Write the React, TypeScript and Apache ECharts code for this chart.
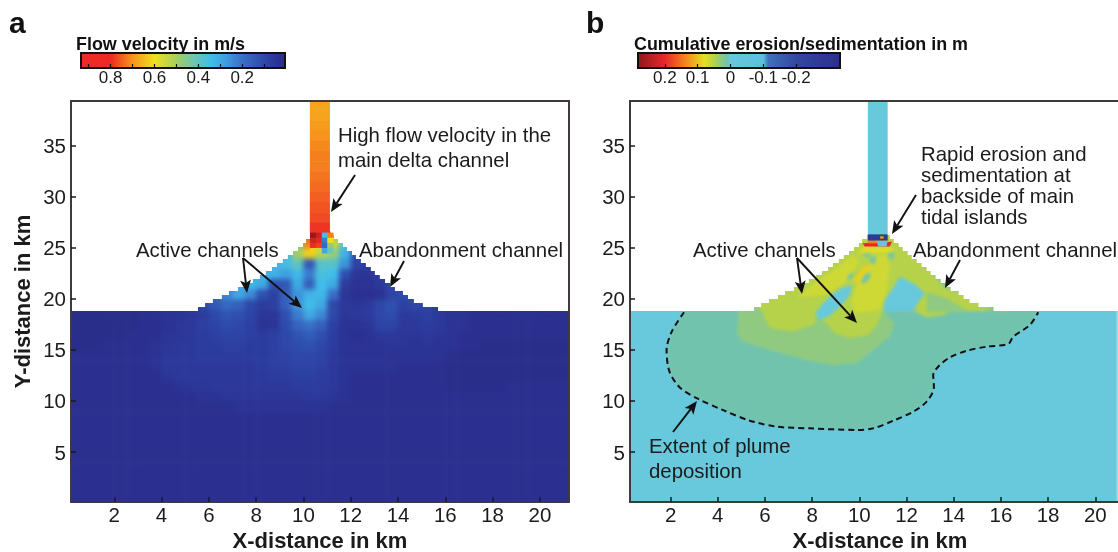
import React, { useEffect, useRef } from "react";
import * as echarts from "echarts";

const FONT = "'Liberation Sans', Arial, sans-serif";
const INK = "#1c1a1a";

// ---------- axes ----------
const xTicks = [2, 4, 6, 8, 10, 12, 14, 16, 18, 20];
const yTicks = [5, 10, 15, 20, 25, 30, 35];
const velocityLabels = [0.8, 0.6, 0.4, 0.2];
const velocityTicks = [0.9, 0.8, 0.7, 0.6, 0.5, 0.4, 0.3, 0.2, 0.1];
const erosionLabels = [0.2, 0.1, 0, -0.1, -0.2];

// ---------- panel a : flow velocity in cm/s, cell centres ----------
const cellX = [0.25, 0.75, 1.25, 1.75, 2.25, 2.75, 3.25, 3.75, 4.25, 4.75, 5.25, 5.75, 6.25, 6.75, 7.25, 7.75, 8.25, 8.75, 9.25, 9.75, 10.25, 10.75, 11.25, 11.75, 12.25, 12.75, 13.25, 13.75, 14.25, 14.75, 15.25, 15.75, 16.25, 16.75, 17.25, 17.75, 18.25, 18.75, 19.25, 19.75, 20.25, 20.75, 21.25];
const deepRow = [3, 3, 3, 3, 3, 3, 3, 3, 3, 3, 3, 3, 3, 3, 3, 3, 3, 3, 3, 3, 3, 3, 3, 3, 3, 3, 3, 3, 3, 3, 3, 3, 3, 3, 3, 3, 3, 3, 3, 3, 3, 3, 3];
const row9 = [3, 3, 3, 3, 3, 3, 3, 3, 3, 3, 3, 3, 3, 3, 4, 4, 4, 4, 4, 4, 4, 4, 3, 3, 3, 3, 3, 3, 3, 3, 3, 3, 3, 3, 3, 3, 3, 3, 3, 3, 3, 3, 3];
const row10 = [3, 3, 3, 3, 3, 3, 3, 3, 3, 3, 3, 4, 4, 5, 5, 5, 5, 5, 5, 5, 6, 6, 5, 4, 3, 3, 3, 3, 3, 3, 3, 3, 3, 3, 3, 3, 3, 3, 3, 3, 3, 3, 3];
const row11 = [3, 3, 3, 3, 3, 3, 3, 3, 3, 4, 5, 5, 6, 6, 6, 6, 6, 6, 6, 7, 7, 7, 6, 4, 3, 3, 3, 3, 3, 3, 3, 3, 2, 2, 2, 2, 2, 3, 3, 3, 3, 3, 3];
const row12 = [3, 3, 3, 3, 3, 3, 3, 3, 5, 6, 6, 6, 6, 6, 6, 6, 6, 7, 7, 8, 8, 7, 6, 4, 3, 3, 3, 3, 3, 3, 3, 3, 2, 2, 2, 2, 2, 2, 2, 2, 2, 2, 2];
const row13 = [3, 3, 3, 3, 3, 3, 3, 4, 6, 6, 6, 6, 6, 6, 6, 6, 7, 8, 8, 9, 9, 8, 6, 4, 4, 4, 4, 4, 3, 3, 3, 3, 2, 2, 2, 2, 2, 2, 2, 2, 2, 2, 2];
const row14 = [3, 3, 3, 3, 3, 3, 3, 4, 6, 6, 6, 7, 7, 7, 7, 7, 7, 8, 9, 10, 10, 9, 6, 4, 4, 4, 4, 4, 4, 4, 4, 4, 3, 2, 2, 2, 2, 2, 2, 2, 2, 2, 2];
const row15 = [2, 2, 2, 3, 3, 3, 3, 4, 5, 6, 6, 7, 7, 8, 8, 7, 7, 8, 10, 11, 12, 10, 7, 4, 4, 4, 4, 5, 5, 4, 5, 4, 4, 3, 3, 2, 2, 2, 2, 2, 2, 2, 2];
const row16 = [2, 2, 2, 2, 2, 3, 3, 3, 5, 5, 6, 7, 8, 9, 9, 8, 7, 8, 10, 13, 15, 12, 7, 4, 3, 4, 6, 6, 5, 5, 6, 5, 4, 3, 3, 3, 3, 3, 3, 3, 3, 3, 3];
const row17 = [2, 2, 2, 2, 2, 2, 3, 3, 4, 5, 6, 8, 9, 11, 10, 8, 4, 5, 11, 17, 20, 16, 8, 4, 4, 5, 9, 9, 6, 6, 7, 6, 4, 4, 3, 3, 3, 3, 3, 3, 3, 3, 3];
const row18 = [2, 2, 2, 2, 2, 2, 3, 3, 4, 4, 5, 7, 10, 13, 12, 9, 5, 5, 12, 22, 30, 24, 10, 5, 6, 7, 10, 11, 6, 7, 8, 6, 4, 4, 3, 3, 3, 3, 3, 3, 3, 3, 3];
const row19 = [3, 3, 3, 3, 3, 3, 3, 4, 5, 6, 7, 10, 14, 18, 16, 10, 7, 8, 16, 26, 34, 30, 10, 6, 5, 6, 10, 12, 8, 10, 9, 6, 4, 3, 3, 3, 3, 3, 3, 3, 3, 3, 3];
const row20 = [3, 3, 3, 3, 3, 3, 3, 3, 3, 3, 8, 12, 18, 24, 30, 24, 12, 8, 16, 26, 32, 33, 20, 5, 3, 3, 4, 9, 11, 10, 8, 5, 4, 3, 3, 3, 3, 3, 3, 3, 3, 3, 3];
const row21 = [3, 3, 3, 3, 3, 3, 3, 3, 3, 3, 6, 8, 14, 22, 30, 33, 30, 12, 14, 30, 16, 34, 30, 7, 4, 4, 6, 10, 11, 8, 7, 5, 3, 3, 3, 3, 3, 3, 3, 3, 3, 3, 3];
const row22 = [3, 3, 3, 3, 3, 3, 3, 3, 3, 3, 3, 3, 10, 18, 24, 28, 32, 32, 28, 33, 22, 36, 34, 12, 5, 5, 7, 9, 9, 8, 6, 5, 3, 3, 3, 3, 3, 3, 3, 3, 3, 3, 3];
const row23 = [3, 3, 3, 3, 3, 3, 3, 3, 3, 3, 3, 3, 3, 14, 22, 26, 30, 32, 35, 40, 14, 38, 38, 26, 9, 7, 8, 8, 8, 6, 5, 5, 3, 3, 3, 3, 3, 3, 3, 3, 3, 3, 3];
const row24 = [3, 3, 3, 3, 3, 3, 3, 3, 3, 3, 3, 3, 3, 3, 18, 25, 28, 30, 33, 50, 62, 52, 48, 32, 10, 8, 8, 8, 8, 5, 5, 5, 3, 3, 3, 3, 3, 3, 3, 3, 3, 3, 3];
const row25 = [3, 3, 3, 3, 3, 3, 3, 3, 3, 3, 3, 3, 3, 3, 3, 20, 25, 28, 33, 45, 72, 88, 55, 38, 12, 8, 8, 8, 8, 5, 5, 5, 3, 3, 3, 3, 3, 3, 3, 3, 3, 3, 3];
const row26 = [3, 3, 3, 3, 3, 3, 3, 3, 3, 3, 3, 3, 3, 3, 3, 3, 20, 25, 30, 50, 80, 86, 70, 35, 10, 8, 8, 8, 8, 5, 5, 5, 3, 3, 3, 3, 3, 3, 3, 3, 3, 3, 3];
const velocityRows = [deepRow, deepRow, deepRow, deepRow, deepRow, deepRow, deepRow, deepRow, deepRow, row9, row10, row11, row12, row13, row14, row15, row16, row17, row18, row19, row20, row21, row22, row23, row24, row25, row26];

// main channel above the delta apex, top to bottom (centres at y)
const channelY = [39, 38, 37, 36, 35, 34, 33, 32, 31, 30, 29, 28, 27];
const channelVelocity = [68, 68, 69, 70, 71, 72, 72, 73, 74, 75, 76, 77, 79];
// fine cells at the apex
const apexX = [10.4, 10.65, 10.9, 11.13];
const apexY = [26.25, 25.75, 25.25, 24.75];
const apexVelocity = [
  [95, 86, 35, 72],
  [85, 82, 22, 60],
  [80, 78, 18, 48],
  [62, 55, 30, 42],
];

// ---------- delta outline shared by both panels (stair steps of the mesh) ----------
const landY = [18.82, 19.22, 19.61, 20.0, 20.39, 20.78, 21.18, 21.57, 21.96, 22.35, 22.75, 23.14, 23.53, 23.92, 24.31, 24.71, 25.1, 25.49, 25.88, 26.27, 26.6];
const landLeft = [5.54, 5.84, 6.17, 6.55, 6.85, 7.23, 7.61, 7.86, 8.16, 8.41, 8.67, 8.88, 9.13, 9.34, 9.56, 9.77, 9.98, 10.11, 10.32, 10.44];
const landRight = [15.69, 15.05, 14.67, 14.42, 14.21, 13.87, 13.66, 13.45, 13.23, 13.02, 12.85, 12.64, 12.43, 12.22, 12.05, 11.84, 11.67, 11.46, 11.29, 11.16];

// ---------- panel b : erosion/sedimentation contours, [km, km], level in m ----------
const plumeLine = [[2.57, 18.7], [2.05, 16.8], [1.83, 15.0], [1.95, 12.9], [2.4, 11.3], [3.17, 10.2], [4.23, 9.1], [5.36, 8.07], [6.5, 7.48], [7.9, 7.32], [9.89, 7.16], [10.59, 7.32], [11.44, 8.07], [12.28, 8.95], [12.85, 9.93], [13.16, 11.34], [13.13, 12.55], [13.34, 13.36], [13.84, 14.28], [14.55, 14.93], [15.39, 15.32], [16.31, 15.59], [16.52, 16.3], [17.23, 17.45], [17.58, 18.7]];
const plumeShore = [[2.57, 18.6], [17.58, 18.6], [17.58, 19.5], [2.57, 19.5]];
const openSea = [[-2, -2], [24, -2], [24, 42], [-2, 42]];
const bandNear = [[4.87, 20], [4.87, 17.94], [4.8, 16.63], [5.08, 15.8], [6.21, 15], [7.76, 14], [8.89, 13.5], [9.88, 13.7], [10.59, 15], [11.29, 16.3], [11.5, 17.6], [11.0, 18.76], [11, 20]];
const deltaApron = [[5, 18.8], [16.5, 18.8], [13.5, 23], [11.5, 27], [10, 27], [5, 20]];
const deltaTop = [[5.93, 18.8], [6.0, 17.94], [6.28, 17.1], [7.2, 16.8], [8.12, 17.55], [8.19, 18.4], [8.61, 17.6], [8.96, 16.63], [9.6, 16.14], [10.38, 16.47], [10.73, 17.45], [10.98, 18.76], [12.28, 18.9], [12.85, 18.2], [13.55, 18.4], [14, 18.9], [15.2, 18.8], [15.6, 19.2], [14.3, 20.6], [13.6, 21], [11.5, 27], [10, 27], [5, 20]];
const rightApron = [[12.85, 20.7], [13.7, 20.06], [14.68, 18.7], [12.85, 18.7]];
const leftYellow = [[7.34, 20.2], [8.61, 20.4], [9.46, 21.7], [10.02, 23.65], [9.74, 24.3], [9.03, 23], [8.19, 21.7]];
const midYellow = [[9.81, 18.68], [10.87, 18.9], [11.15, 20.7], [11.29, 23.0], [11.15, 24.3], [10.59, 24.15], [10.09, 22.35], [9.81, 20.9], [9.67, 19.73]];
const streakYellow = [[9.81, 22.0], [10.16, 23.2], [10.52, 23.3], [10.24, 22.35], [9.81, 21.4]];
const apexYellow = [[10.23, 25.1], [11.29, 25.1], [11.58, 24.8], [11.15, 24.5], [10.3, 24.5], [9.88, 24.5]];
const holeLeft = [[8.12, 18.59], [8.33, 17.94], [8.75, 18.36], [9.18, 19.24], [9.6, 20.39], [9.71, 21.37], [9.35, 21.2], [8.89, 20.55], [8.47, 19.57]];
const holeRight = [[11.0, 18.76], [12.3, 18.8], [12.42, 19.4], [12.78, 20.55], [12.35, 21.43], [11.72, 22.2], [11.46, 21.2], [11.08, 19.9]];
const spots = [
  [[10.16, 24.47], [10.52, 24.47], [10.38, 24.05], [10.19, 24.24]],
  [[10.45, 24.14], [10.73, 24.14], [10.66, 23.39], [10.45, 23.49]],
  [[11.22, 24.57], [11.5, 24.57], [11.43, 23.82], [11.25, 23.98]],
  [[10.23, 22.41], [10.47, 22.61], [10.45, 22.02], [10.19, 21.43], [10.07, 21.69]],
  [[9.6, 22.51], [9.81, 22.51], [9.6, 21.85], [9.46, 21.85]],
];
const erosionContours: [number, number[][]][] = [
  [0, openSea],
  [0.01, plumeLine],
  [0.01, plumeShore],
  [0.03, bandNear],
  [0.03, deltaApron],
  [0.05, deltaTop],
  [0.03, rightApron],
  [0.065, leftYellow],
  [0.065, midYellow],
  [0.09, streakYellow],
  [0, holeLeft],
  [0, holeRight],
  [0.075, apexYellow],
  ...spots.map((s): [number, number[][]] => [0.012, s]),
];
const channelB = [[10.36, 26.3], [11.2, 26.3], [11.2, 39.3], [10.36, 39.3]];
const apexContours: [number, number[][]][] = [
  [0.09, [[10.2, 25.13], [11.32, 25.13], [11.28, 24.95], [10.25, 24.95]]],
  [0.2, [[10.14, 25.45], [11.39, 25.6], [11.29, 25.13], [10.23, 25.13]]],
  [-0.02, [[10.73, 25.68], [11.2, 25.68], [11.15, 25.13], [10.8, 25.13]]],
  [0.14, [[10.36, 25.45], [10.73, 25.45], [10.73, 25.75], [10.36, 25.75]]],
  [-0.27, [[10.36, 25.72], [11.2, 25.72], [11.2, 26.33], [10.36, 26.33]]],
  [0.13, [[10.88, 25.9], [11.03, 25.9], [11.03, 26.15], [10.88, 26.15]]],
];

// ---------- colour scales ----------
const velocityStops: [number, string][] = [[0, "#262a80"], [3, "#2b3090"], [7, "#2c3c9e"], [12, "#2f50b0"], [20, "#3a70c8"], [28, "#3f9fe0"], [34, "#40bdea"], [42, "#6cc6b0"], [50, "#a4cf60"], [60, "#f0e01c"], [70, "#f7941d"], [80, "#ed2a24"], [94, "#961a1a"]];
const erosionStops: [number, string][] = [[-0.334, "#2b2f8e"], [-0.2, "#33479f"], [-0.115, "#3f72bc"], [-0.1, "#5bbfdf"], [0, "#68c8dc"], [0.01, "#72c3ae"], [0.03, "#8fca80"], [0.05, "#b6d24a"], [0.08, "#e6e020"], [0.14, "#f4821f"], [0.2, "#e8262a"], [0.282, "#8c1a1a"]];

function hex(c: string) {
  return [1, 3, 5].map((i) => parseInt(c.slice(i, i + 2), 16));
}
function colorAt(stops: [number, string][], v: number) {
  if (v <= stops[0][0]) return stops[0][1];
  for (let i = 1; i < stops.length; i++) {
    if (v <= stops[i][0]) {
      const t = (v - stops[i - 1][0]) / (stops[i][0] - stops[i - 1][0]);
      const a = hex(stops[i - 1][1]);
      const b = hex(stops[i][1]);
      return `rgb(${a.map((x, k) => Math.round(x + (b[k] - x) * t)).join(",")})`;
    }
  }
  return stops[stops.length - 1][1];
}

// ---------- layout ----------
const W = 1118;
const H = 552;
const A = { left: 71, top: 101, width: 498, height: 401, xMin: 0.17, xMax: 21.23, yMin: 0.1, yMax: 39.4 };
const B = { left: 630, top: 101, width: 500, height: 401, xMin: 0.28, xMax: 21.47, yMin: 0.1, yMax: 39.4 };

function gridOf(p: typeof A, extra = {}) {
  return { left: p.left, top: p.top, width: p.width, height: p.height, outerBoundsMode: "none", ...extra };
}
function hiddenAxes(p: typeof A) {
  return {
    xAxis: { type: "value", min: p.xMin, max: p.xMax, show: false },
    yAxis: { type: "value", min: p.yMin, max: p.yMax, show: false },
  };
}
function polygonSeries(list: [number, number[][]][], stops: [number, string][], extra = {}) {
  return {
    type: "custom",
    data: list.map((_, i) => [i, 0]),
    silent: true,
    renderItem: (params: any, api: any) => {
      const [level, pts] = list[params.dataIndex];
      return {
        type: "polygon",
        shape: { points: pts.map((q) => api.coord(q)) },
        style: { fill: colorAt(stops, level), stroke: null },
      };
    },
    ...extra,
  };
}
function velocityCells() {
  const items: number[][] = [];
  velocityRows.forEach((row, r) => row.forEach((v, c) => items.push([cellX[c], r + 0.5, v, c, r])));
  return {
    type: "custom",
    data: items,
    silent: true,
    renderItem: (params: any, api: any) => {
      const [x, y, v, c, r] = items[params.dataIndex];
      const hw = 0.25;
      const x0 = c === 0 ? x - 2 : x - hw;
      const x1 = c === cellX.length - 1 ? x + 2 : x + hw;
      const y0 = r === 0 ? y - 2 : y - 0.5;
      const p0 = api.coord([x0, y + 0.5]);
      const p1 = api.coord([x1, y0]);
      return {
        type: "rect",
        shape: { x: p0[0], y: p0[1], width: p1[0] - p0[0] + 0.6, height: p1[1] - p0[1] + 0.6 },
        style: { fill: colorAt(velocityStops, v), stroke: null },
      };
    },
  };
}
function landMask(p: typeof A) {
  const pts: number[][] = [[p.xMin, p.yMax], [p.xMin, landY[0]]];
  landLeft.forEach((x, k) => {
    pts.push([x, landY[k]], [x, landY[k + 1]]);
  });
  for (let k = landRight.length - 1; k >= 0; k--) {
    pts.push([landRight[k], landY[k + 1]], [landRight[k], landY[k]]);
  }
  pts.push([p.xMax, landY[0]], [p.xMax, p.yMax]);
  return {
    type: "custom",
    data: [[0, 0]],
    silent: true,
    z: 2,
    renderItem: (_: any, api: any) => ({
      type: "polygon",
      shape: { points: pts.map((q) => api.coord(q)) },
      style: { fill: "#ffffff", stroke: null },
    }),
  };
}
function mainAxes(p: typeof A, gridIndex: number, withNames = true) {
  const label = { color: INK, fontFamily: FONT, fontSize: 20.5 };
  const line = { show: false };
  return {
    x: {
      type: "value",
      gridIndex,
      min: p.xMin,
      max: p.xMax,
      z: 8,
      splitLine: { show: false },
      axisLine: line,
      axisTick: { inside: true, length: 5, customValues: xTicks, lineStyle: { color: INK, width: 1.5 } },
      axisLabel: { ...label, margin: 2, customValues: xTicks },
      name: "X-distance in km",
      nameLocation: "middle",
      nameGap: 27,
      nameTextStyle: { color: INK, fontFamily: FONT, fontWeight: "bold", fontSize: 22, lineHeight: 19 },
    },
    y: {
      type: "value",
      gridIndex,
      min: p.yMin,
      max: p.yMax,
      z: 8,
      splitLine: { show: false },
      axisLine: line,
      axisTick: { inside: true, length: 5, customValues: yTicks, lineStyle: { color: INK, width: 1.5 } },
      axisLabel: { ...label, margin: 5, customValues: yTicks },
      ...(withNames
        ? {
            name: "Y-distance in km",
            nameLocation: "middle",
            nameGap: 38,
            nameTextStyle: { color: INK, fontFamily: FONT, fontWeight: "bold", fontSize: 22 },
          }
        : {}),
    },
  };
}
function colorBarAxes(gridIndex: number, min: number, max: number, ticks: number[], labels: number[], fmt: (v: number) => string) {
  return {
    x: {
      type: "value",
      gridIndex,
      min,
      max,
      inverse: true,
      z: 8,
      splitLine: { show: false },
      axisLine: { show: false },
      axisTick: { inside: true, length: 4, customValues: ticks, lineStyle: { color: "#111", width: 1.2 } },
      axisLabel: { color: INK, fontFamily: FONT, fontSize: 17, margin: 1, customValues: labels, formatter: fmt },
    },
    y: { type: "value", gridIndex, min: 0, max: 1, show: false },
  };
}
function colorBarSeries(gridIndex: number, min: number, max: number, stops: [number, string][], scale: number) {
  return {
    type: "custom",
    xAxisIndex: gridIndex,
    yAxisIndex: gridIndex,
    data: [[min, 0]],
    silent: true,
    renderItem: (_: any, api: any) => {
      const a = api.coord([max, 1]);
      const b = api.coord([min, 0]);
      const colorStops = stops
        .map(([v, color]) => ({ offset: (max - v / scale) / (max - min), color }))
        .filter((s) => s.offset >= 0 && s.offset <= 1)
        .sort((p, q) => p.offset - q.offset);
      return {
        type: "rect",
        shape: { x: a[0], y: a[1], width: b[0] - a[0], height: b[1] - a[1] },
        style: { fill: new echarts.graphic.LinearGradient(0, 0, 1, 0, colorStops) },
      };
    },
  };
}

// ---------- annotations ----------
const arrows = [
  [355, 175, 331, 212],
  [243, 258, 247, 293],
  [243, 258, 302, 308],
  [404, 261, 390, 287],
  [916, 195, 892, 234],
  [797, 258, 802, 294],
  [797, 258, 857, 323],
  [960, 260, 945, 288],
  [673, 432, 697, 401],
];
const notes: [string, number, number][] = [
  ["High flow velocity in the", 338, 135],
  ["main delta channel", 338, 160],
  ["Active channels", 136, 250],
  ["Abandonment channel", 359, 250],
  ["Rapid erosion and", 921, 154],
  ["sedimentation at", 921, 175],
  ["backside of main", 921, 196],
  ["tidal islands", 921, 217],
  ["Active channels", 693, 250],
  ["Abandonment channel", 913, 250],
  ["Extent of plume", 649, 446],
  ["deposition", 649, 471],
];
const headings: [string, number, number, number][] = [
  ["a", 9, 22, 30],
  ["b", 586, 22, 30],
  ["Flow velocity in m/s", 76, 44, 17.9],
  ["Cumulative erosion/sedimentation in m", 634, 44, 17.9],
];
function arrowGraphics() {
  const out: any[] = [];
  arrows.forEach(([x0, y0, x1, y1]) => {
    const len = Math.hypot(x1 - x0, y1 - y0);
    const ux = (x1 - x0) / len;
    const uy = (y1 - y0) / len;
    const bx = x1 - ux * 13;
    const by = y1 - uy * 13;
    const nx = x1 - ux * 10;
    const ny = y1 - uy * 10;
    out.push({ type: "line", z: 20, shape: { x1: x0, y1: y0, x2: nx, y2: ny }, style: { stroke: "#111", lineWidth: 1.9 } });
    out.push({
      type: "polygon",
      z: 20,
      shape: { points: [[x1, y1], [bx - uy * 5.5, by + ux * 5.5], [nx, ny], [bx + uy * 5.5, by - ux * 5.5]] },
      style: { fill: "#111" },
    });
  });
  return out;
}
function textGraphics() {
  return [
    ...notes.map(([text, x, y]) => ({
      type: "text",
      z: 21,
      x,
      y,
      style: { text, fontFamily: FONT, fontSize: 20.4, fill: INK, verticalAlign: "middle", align: "left" },
    })),
    ...headings.map(([text, x, y, size]) => ({
      type: "text",
      z: 21,
      x,
      y,
      style: { text, fontFamily: FONT, fontWeight: "bold", fontSize: size, fill: "#111", verticalAlign: "middle", align: "left" },
    })),
  ];
}

function useChart(build: () => any) {
  const ref = useRef<HTMLDivElement>(null);
  useEffect(() => {
    const chart = echarts.init(ref.current!, undefined, { renderer: "svg" });
    chart.setOption(build());
    return () => chart.dispose();
  }, []);
  return ref;
}

const layer = (extra: React.CSSProperties = {}): React.CSSProperties => ({
  position: "absolute",
  left: 0,
  top: 0,
  width: W,
  height: H,
  ...extra,
});
const insetOf = (p: typeof A) => `inset(${p.top}px ${Math.max(W - p.left - p.width, 0)}px ${H - p.top - p.height}px ${p.left}px)`;

export default function App() {
  const fieldA = useChart(() => ({
    animation: false,
    grid: gridOf(A),
    ...hiddenAxes(A),
    series: [velocityCells()],
  }));
  const fieldB = useChart(() => ({
    animation: false,
    grid: gridOf(B),
    ...hiddenAxes(B),
    series: [polygonSeries(erosionContours, erosionStops)],
  }));
  const top = useChart(() => {
    const a = mainAxes(A, 0);
    const b = mainAxes(B, 1, false);
    const va = colorBarAxes(2, 0.005, 0.935, velocityTicks, velocityLabels, (v) => v.toFixed(1));
    const ea = colorBarAxes(3, -0.334, 0.282, erosionLabels, erosionLabels, (v) => (v === 0 ? "0" : v.toFixed(1)));
    const frame = { show: true, borderColor: "#3f3a39", borderWidth: 2, backgroundColor: "transparent", z: 7 };
    const barFrame = { show: true, borderColor: "#111", borderWidth: 2, backgroundColor: "transparent", z: 7, outerBoundsMode: "none" };
    const channelCells: number[][] = channelY.map((y, i) => [y, channelVelocity[i]]);
    const apexCells: number[][] = [];
    apexY.forEach((y, r) => apexX.forEach((x, c) => apexCells.push([x, y, apexVelocity[r][c]])));
    return {
      animation: false,
      backgroundColor: "transparent",
      grid: [
        gridOf(A, frame),
        gridOf(B, frame),
        { left: 81, top: 53, width: 204, height: 15, ...barFrame },
        { left: 638, top: 53, width: 202, height: 15, ...barFrame },
      ],
      xAxis: [a.x, b.x, va.x, ea.x],
      yAxis: [a.y, b.y, va.y, ea.y],
      series: [
        { ...landMask(A), xAxisIndex: 0, yAxisIndex: 0 },
        { ...landMask(B), xAxisIndex: 1, yAxisIndex: 1 },
        {
          type: "custom",
          xAxisIndex: 0,
          yAxisIndex: 0,
          z: 3,
          silent: true,
          data: channelCells,
          renderItem: (params: any, api: any) => {
            const [y, v] = channelCells[params.dataIndex];
            const p0 = api.coord([10.27, Math.min(y + 0.5, A.yMax)]);
            const p1 = api.coord([11.12, y - 0.5]);
            return {
              type: "rect",
              shape: { x: p0[0], y: p0[1], width: p1[0] - p0[0], height: p1[1] - p0[1] + 0.5 },
              style: { fill: colorAt(velocityStops, v) },
            };
          },
        },
        {
          type: "custom",
          xAxisIndex: 0,
          yAxisIndex: 0,
          z: 4,
          silent: true,
          data: apexCells,
          renderItem: (params: any, api: any) => {
            const [x, y, v] = apexCells[params.dataIndex];
            const p0 = api.coord([x - 0.125, y + 0.25]);
            const p1 = api.coord([x + 0.125, y - 0.25]);
            return {
              type: "rect",
              shape: { x: p0[0], y: p0[1], width: p1[0] - p0[0] + 0.4, height: p1[1] - p0[1] + 0.4 },
              style: { fill: colorAt(velocityStops, v) },
            };
          },
        },
        polygonSeries([[0, channelB]], erosionStops, { xAxisIndex: 1, yAxisIndex: 1, z: 3 }),
        polygonSeries(apexContours, erosionStops, { xAxisIndex: 1, yAxisIndex: 1, z: 4 }),
        {
          type: "line",
          xAxisIndex: 1,
          yAxisIndex: 1,
          z: 5,
          data: plumeLine,
          smooth: 0.3,
          symbol: "none",
          silent: true,
          lineStyle: { color: "#111", width: 2, type: [6, 4] },
        },
        colorBarSeries(2, 0.005, 0.935, velocityStops, 100),
        colorBarSeries(3, -0.334, 0.282, erosionStops, 1),
      ],
      graphic: [...arrowGraphics(), ...textGraphics()],
    };
  });
  return (
    <div style={{ position: "fixed", left: 0, top: 0, width: W, height: H, overflow: "hidden", background: "#fff" }}>
      <div ref={fieldA} style={layer({ filter: "blur(2.5px)", clipPath: insetOf(A) })} />
      <div ref={fieldB} style={layer({ filter: "blur(1.8px)", clipPath: insetOf(B) })} />
      <div ref={top} style={layer({ filter: "blur(0.3px)" })} />
    </div>
  );
}
